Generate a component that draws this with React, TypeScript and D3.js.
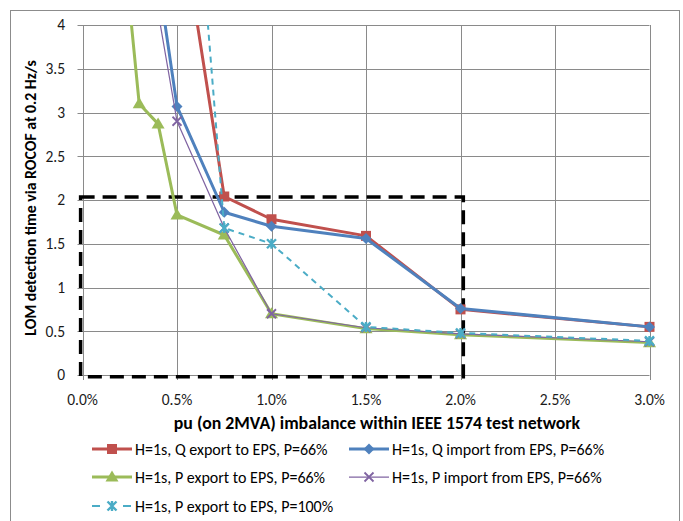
import React from "react";
import * as d3 from "d3";

const xTicks = [0, 0.5, 1.0, 1.5, 2.0, 2.5, 3.0];
const xTickLabels = ["0.0%", "0.5%", "1.0%", "1.5%", "2.0%", "2.5%", "3.0%"];
const yTicks = [0, 0.5, 1, 1.5, 2, 2.5, 3, 3.5, 4];
const yTickLabels = ["0", "0.5", "1", "1.5", "2", "2.5", "3", "3.5", "4"];

const qExportX = [0.5, 0.75, 1.0, 1.5, 2.0, 3.0];
const qExportY = [5.5, 2.04, 1.78, 1.59, 0.75, 0.55];
const qImportX = [0.4, 0.5, 0.75, 1.0, 1.5, 2.0, 3.0];
const qImportY = [4.55, 3.07, 1.86, 1.7, 1.56, 0.76, 0.55];
const pExportX = [0.25, 0.3, 0.4, 0.5, 0.75, 1.0, 1.5, 2.0, 3.0];
const pExportY = [4.2, 3.1, 2.87, 1.83, 1.6, 0.7, 0.53, 0.46, 0.37];
const pImportX = [0.4, 0.5, 0.75, 1.0, 1.5, 2.0, 3.0];
const pImportY = [4.15, 2.9, 1.68, 0.7, 0.54, 0.47, 0.38];
const pExport100X = [0.5, 0.75, 1.0, 1.5, 2.0, 3.0];
const pExport100Y = [8.4, 1.68, 1.5, 0.55, 0.48, 0.39];

const boxX = [-0.01, 2.015];
const boxY = [-0.02, 2.035];

const seriesNames = [
  "H=1s, Q export to EPS, P=66%",
  "H=1s, Q import from EPS, P=66%",
  "H=1s, P export to EPS, P=66%",
  "H=1s, P import from EPS, P=66%",
  "H=1s, P export to EPS, P=100%",
];

const FONT = "Carlito, Lato, 'Open Sans', sans-serif";

type Series = {
  name: string;
  xs: number[];
  ys: number[];
  color: string;
  width: number;
  dash?: string;
  marker: "square" | "diamond" | "triangle" | "x" | "star";
};

const series: Series[] = [
  { name: seriesNames[0], xs: qExportX, ys: qExportY, color: "#C0504D", width: 3, marker: "square" },
  { name: seriesNames[1], xs: qImportX, ys: qImportY, color: "#4F81BD", width: 3, marker: "diamond" },
  { name: seriesNames[2], xs: pExportX, ys: pExportY, color: "#9BBB59", width: 3, marker: "triangle" },
  { name: seriesNames[3], xs: pImportX, ys: pImportY, color: "#8064A2", width: 1.25, marker: "x" },
  { name: seriesNames[4], xs: pExport100X, ys: pExport100Y, color: "#4BACC6", width: 2, dash: "6 5", marker: "star" },
];

function Marker({ type, x, y, color }: { type: Series["marker"]; x: number; y: number; color: string }) {
  if (type === "square") return <rect x={x - 5} y={y - 5} width={10} height={10} fill={color} />;
  if (type === "diamond") {
    const r = 5.5;
    return <path d={`M${x},${y - r}L${x + r},${y}L${x},${y + r}L${x - r},${y}Z`} fill={color} />;
  }
  if (type === "triangle") {
    const r = 6.5;
    return <path d={`M${x},${y - r}L${x + r},${y + r * 0.7}L${x - r},${y + r * 0.7}Z`} fill={color} />;
  }
  if (type === "x") {
    const r = 4.5;
    return (
      <path d={`M${x - r},${y - r}L${x + r},${y + r}M${x - r},${y + r}L${x + r},${y - r}`} stroke={color} strokeWidth={1.8} />
    );
  }
  const r = 4.5;
  return (
    <path
      d={`M${x - r},${y - r}L${x + r},${y + r}M${x - r},${y + r}L${x + r},${y - r}M${x},${y - r - 0.5}L${x},${y + r + 0.5}`}
      stroke={color}
      strokeWidth={2.4}
    />
  );
}

export default function App() {
  const W = 683;
  const H = 521;
  const x = d3.scaleLinear().domain([0, 3]).range([82.5, 649.5]);
  const y = d3.scaleLinear().domain([0, 4]).range([375, 25]);
  const line = d3
    .line<[number, number]>()
    .x((d) => x(d[0]))
    .y((d) => y(d[1]));

  const legendPos = [
    { lx: 92, ly: 449 },
    { lx: 349, ly: 449 },
    { lx: 92, ly: 477 },
    { lx: 349, ly: 477 },
    { lx: 92, ly: 506 },
  ];

  return (
    <svg width={W} height={H} style={{ position: "absolute", left: 0, top: 0 }} fontFamily={FONT}>
      <rect x={0} y={0} width={W} height={H} fill="#fff" />
      <rect x={10.5} y={10.5} width={669} height={530} fill="none" stroke="#8c8c8c" strokeWidth={1} />
      <defs>
        <clipPath id="plotclip">
          <rect x={x(0) - 10} y={y(4)} width={x(3) - x(0) + 20} height={y(0) - y(4) + 10} />
        </clipPath>
      </defs>
      {/* gridlines */}
      {yTicks.map((t) => (
        <line key={"hy" + t} x1={x(0) - 5} x2={x(3)} y1={Math.round(y(t)) + 0.5} y2={Math.round(y(t)) + 0.5} stroke="#8a8a8a" strokeWidth={1} />
      ))}
      {xTicks.map((t) => (
        <line key={"vx" + t} x1={Math.round(x(t)) + 0.5} x2={Math.round(x(t)) + 0.5} y1={y(4)} y2={y(0) + 5} stroke="#8a8a8a" strokeWidth={1} />
      ))}
      {/* tick labels */}
      {yTicks.map((t, i) => (
        <text key={"yl" + t} x={65} y={y(t)} dy="0.35em" textAnchor="end" fontSize={15.5} fill="#1a1a1a">
          {yTickLabels[i]}
        </text>
      ))}
      {xTicks.map((t, i) => (
        <text key={"xl" + t} x={x(t)} y={405} textAnchor="middle" fontSize={15.5} fill="#1a1a1a">
          {xTickLabels[i]}
        </text>
      ))}
      {/* axis titles */}
      <text x={377} y={429} textAnchor="middle" fontSize={17.8} fontWeight="bold" fill="#000">
        pu (on 2MVA) imbalance within IEEE 1574 test network
      </text>
      <text
        transform={`translate(36,198) rotate(-90)`}
        textAnchor="middle"
        fontSize={15.8}
        fontWeight="bold"
        fill="#000"
      >
        LOM detection time via ROCOF at 0.2 Hz/s
      </text>
      {/* dashed box */}
      <rect
        x={x(boxX[0])}
        y={y(boxY[1])}
        width={x(boxX[1]) - x(boxX[0])}
        height={y(boxY[0]) - y(boxY[1])}
        fill="none"
        stroke="#000"
        strokeWidth={3.5}
        strokeDasharray="14 8"
      />
      {/* series */}
      <g clipPath="url(#plotclip)">
        {series.map((s) => {
          const pts = s.xs.map((v, i) => [v, s.ys[i]] as [number, number]);
          return (
            <g key={s.name}>
              <path d={line(pts) || ""} fill="none" stroke={s.color} strokeWidth={s.width} strokeDasharray={s.dash} strokeLinejoin="round" />
              {pts.map((p, i) => (
                <Marker key={i} type={s.marker} x={x(p[0])} y={y(p[1])} color={s.color} />
              ))}
            </g>
          );
        })}
      </g>
      {/* legend */}
      {series.map((s, i) => {
        const { lx, ly } = legendPos[i];
        return (
          <g key={"lg" + i}>
            <line x1={lx} x2={lx + 40} y1={ly} y2={ly} stroke={s.color} strokeWidth={s.width} strokeDasharray={s.dash ? "8 23" : undefined} />
            <Marker type={s.marker} x={lx + 20} y={ly} color={s.color} />
            <text x={lx + 43} y={ly} dy="0.35em" fontSize={16} fill="#000">
              {s.name}
            </text>
          </g>
        );
      })}
    </svg>
  );
}
